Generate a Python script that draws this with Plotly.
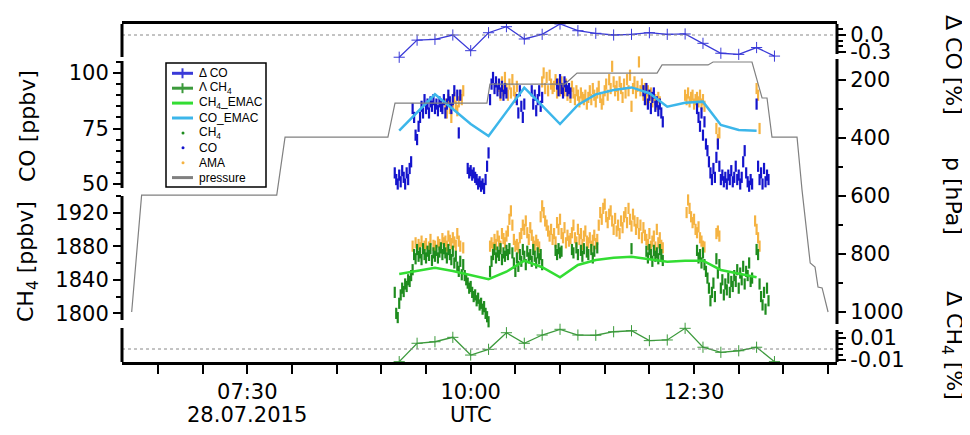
import plotly.graph_objects as go
import pandas as pd

DAY = "2015-07-28 "

# ---------------- data ----------------
PRESSURE_TIME = ["06:12:20", "06:19:00", "07:49:45", "07:55:20", "09:04:25", "09:09:10",
                 "10:10:55", "10:12:55", "11:03:20", "11:11:25", "12:05:10", "12:08:30",
                 "12:39:25", "12:42:45", "13:08:55", "13:12:20", "13:15:40", "13:19:00",
                 "13:22:20", "13:39:10", "13:42:30", "13:48:00", "13:51:15", "13:53:15",
                 "13:56:00", "14:00:00"]
PRESSURE_HPA = [1000, 597, 597, 397, 397, 280, 280, 214, 214, 176, 176, 148, 148, 138,
                138, 200, 262, 262, 397, 397, 579, 831, 845, 914, 917, 1000]

MODEL_TIME = ["09:12", "09:24", "09:36", "09:48", "10:00", "10:12", "10:24", "10:36",
              "10:48", "11:00", "11:12", "11:24", "11:36", "11:48", "12:00", "12:12",
              "12:24", "12:36", "12:48", "13:00", "13:12", "13:24"]
DELTA_CO = [-0.39, -0.09, -0.075, 0.0, -0.275, 0.04, 0.146, -0.07, 0.012, 0.193, 0.075,
            0.03, 0.0, 0.012, 0.04, 0.012, 0.018, -0.146, -0.32, -0.34, -0.22, -0.37]
DELTA_CH4 = [-0.0115, 0.0052, 0.0066, 0.0106, -0.0055, -0.0003, 0.0148, 0.0052, 0.0127,
             0.0179, 0.0127, 0.0125, 0.0157, 0.0166, 0.0076, 0.0082, 0.0188, 0.0016,
             -0.003, -0.0016, 0.0016, -0.0115]
CO_EMAC = [74.0, 82.1, 90.4, 83.8, 77.0, 71.6, 82.6, 93.4, 85.3, 77.0, 85.6, 90.4, 92.3,
           93.5, 90.9, 84.8, 86.6, 87.1, 76.6, 74.3, 74.0]
CH4_EMAC = [1846.9, 1850.5, 1854.4, 1850.5, 1845.7, 1840.6, 1849.6, 1862.7, 1854.9, 1843.0,
            1857.6, 1863.6, 1866.3, 1867.5, 1864.4, 1861.5, 1862.7, 1862.7, 1851.7, 1846.9,
            1843.0]

# in-situ data, one value per minute starting 09:05 (None = no data)
SAMPLE_START = "09:05"
CO_PPBV = ([None] * 4
           + [55, 52, 50, 54, 51, 56, 53, 50, 55, 52, 57, 60]
           + [84, 80, 72, 70, 76, 80, 85, 82, 88, 84, 86, 82, 87, 85, 88, 84, 86, 83, 87,
              85, 84, 88, 82, 86, 90, 87, 84, 88, 92]
           + [None] + [90, 73, 90] + [None] * 4
           + [57, 55, 56, 54, 55, 53, 52, 50, 51, 49, 50, 48, 52, 58, 64]
           + [88, 95, 98, 93, 96, 92, 95, 91, 94, 90, 93, 91]
           + [None] * 6 + [88, 82, 92, 85, 80, 86]
           + [None] * 4 + [92, 86, 90, 83, 88, 92, 85, 89]
           + [None] * 9 + [95, 92, 97, 93, 91, 96, 94, 92, 93, 91]
           + [None] * 48 + [92, 88, 93, 86, 90, 84, 89, 91, 85, 87, 83, 86, 82, 78]
           + [None] * 22 + [84, 80, 76, 82, 72, 78, 68, 65]
           + [60, 55, 52, 57, 53, 62, 68, 58, 52, 54, 51, 53, 50, 54, 52, 56, 51, 53, 58,
              52, 54, 50, 53, 60, 65, 55, 51, 49, 52, 50]
           + [None] * 2 + [86, 58, 52, 55, 50, 57, 51, 54, 52])

AMA_CO = ([None] * 38
          + [86, 82, 88, 84, 80, 86, 89, 85, 83, 87, 90, 88, 92]
          + [None] * 23
          + [94, 90, 96, 92, 98, 93, 90, 95, 91, 97, 92, 89, 94]
          + [None] * 16
          + [96, 100, 93, 98, 92, 99, 95, 93, 94, 97, 91, 95, 92, 96, 93]
          + [92, 95, 90, 93, 89, 94, 91, 88, 92, 90, 87, 91, 89, 88, 90, 86, 89, 92, 88,
             93, 90, 87, 91, 94, 89, 86, 88, 92, 95, 90, 97, 93, 103, 96, 92, 94, 90, 96,
             93, 89, 95, 91, 97, 92, 99, 85, 93, 96, 91, 94, 105, 92, 95, 90, 93, 88, 92,
             89, 91, 87, 90, 88, 86, 89, 87]
          + [None] * 16
          + [90, 88, 91, 87, 89, 90, 86, 88, 89, 87, 90, 86, 88, 85]
          + [None] * 7 + [75, 70, 73]
          + [None] * 24 + [93, 90, 75] + [None] * 6)

CH4_PPBV = ([None] * 4
            + [1825, 1800, 1795, 1812, 1822, 1830, 1826, 1835, 1832, 1840, 1838, 1845]
            + [1852, 1870, 1865, 1876, 1868, 1872, 1864, 1877, 1870, 1866, 1874, 1869, 1877,
               1863, 1872, 1868, 1875, 1866, 1873, 1878, 1870, 1877, 1872, 1866, 1876, 1870,
               1864, 1874, 1860, 1868, 1855, 1850, 1862, 1846, 1858]
            + [1845, 1840, 1836, 1830, 1832, 1825, 1820, 1822, 1815, 1818, 1810, 1812, 1805,
               1808, 1800, 1796, 1790]
            + [1850, 1862, 1870, 1876, 1866, 1873, 1869, 1877, 1864, 1872, 1868, 1875, 1870,
               1877]
            + [None]
            + [1872, 1860, 1850, 1866, 1856, 1870, 1862, 1876, 1868, 1858]
            + [1874, 1866, 1870, 1862, 1876, 1868, 1860, 1872, 1865, 1870, 1858]
            + [None] * 8 + [1875, 1870, 1877, 1872, 1874]
            + [None] * 6
            + [1876, 1872, None, 1878, 1870, None, 1875, 1868, 1877, None, 1873, 1870, None,
               1876, 1866, 1874, None, 1878]
            + [None] * 22 + [1877] + [None] * 9
            + [1874, 1866, 1876, 1870, 1862, 1875, 1868, 1872, 1865, 1876, 1870, 1863]
            + [None] * 22
            + [1875, 1866, 1870, 1860, 1872]
            + [1858, 1850, 1842, 1830, 1815, 1825, 1836, 1820]
            + [1865, 1848, 1858]
            + [1830, 1840, 1822, 1835, 1828, 1842, 1825, 1838, 1832]
            + [1845, 1838, 1852, 1830, 1848, 1840, 1856, 1835, 1850, 1845, 1860, 1838, 1842]
            + [None] * 2
            + [1876, 1870, 1835, 1820, 1810, 1825, 1805, 1830, 1815])

AMA_CH4 = ([None] * 16
           + [1880, None, 1884, None, 1882, 1878, 1886, None, 1880, 1883, None, 1879, 1888,
              None, 1881, 1880, None, 1885, 1882, 1878, 1889, 1884, 1886, 1880, 1892, 1887,
              1883, 1890, 1885, 1881, 1895, 1886, 1880, None, 1878]
           + [None] * 17
           + [1880, 1884, 1878, 1888, 1882, 1892, 1886, 1880, 1895, 1889, 1884, 1892, 1898,
              1912, 1922, 1905, 1888, 1880]
           + [1882, 1878, 1890, 1895, 1905, 1900, 1910, 1896, 1888, 1902, 1893, 1885, 1880,
              1887, 1882, 1879]
           + [1915, 1928, 1920, 1910, 1905, 1898, 1892, 1900, 1888, 1895, 1885]
           + [1908, 1900, 1912, 1895, 1890, 1902, 1884, 1893, 1886, 1889]
           + [1896, 1905, 1890, 1885, 1900, 1888, 1895, 1882, 1892, 1898, 1886, 1884, 1890,
              1880, 1887, 1893, 1883, 1888]
           + [1905, 1920, 1912, 1925, 1930, 1915, 1908, 1918, 1922, 1910, 1900, 1913, 1898,
              1905, 1895, 1910, 1902, 1915, 1920, 1908, 1925, 1912, 1904, 1918, 1910, 1900,
              1908, 1895, 1905, 1890, 1902, 1893]
           + [1888, 1882, 1895, 1880, 1886, 1892, 1879, 1900, 1884, 1890, 1881, 1878]
           + [None] * 15
           + [1920, 1935, 1925, 1915, 1908, 1912, 1900, 1896, 1903, 1890, 1886, 1880, 1879]
           + [None] * 7 + [1895, 1898, 1892]
           + [None] * 23 + [1910, 1900, 1890, 1880] + [None] * 6)

X_TICKS = ["06:30", "07:00", "07:30", "08:00", "08:30", "09:00", "09:30", "10:00", "10:30",
           "11:00", "11:30", "12:00", "12:30", "13:00", "13:30", "14:00"]
X_LABELS = {"07:30": "07:30", "10:00": "10:00", "12:30": "12:30"}
X_SUBLABELS = {"07:30": "28.07.2015", "10:00": "UTC"}

# ---------------- styling ----------------
C_DCO = "#3a3ad8"
C_DCH4 = "#3c9a3c"
C_CH4EMAC = "#33dd33"
C_COEMAC = "#3cb6ea"
C_CH4 = "#1e8c1e"
C_CO = "#1414cc"
C_AMA = "#f5b342"
C_P = "#808080"

OFF = 8                       # page offset of the figure (body margin)
W, H = 970 - OFF, 435 - OFF   # figure size
L, R, T, B = 122, 837, 24, 362  # plot area in page pixels
TICKFONT = dict(family="DejaVu Sans", size=21, color="black")


def t(s):
    return DAY + s


def px(x):
    return (x - L) / (R - L)


def py(y):
    return (B - y) / (B - T)


def streak(col):
    # dense 1-Hz samples appear as short vertical streaks
    return dict(symbol="line-ns", size=8, color=col, line=dict(color=col, width=2.2))


sample_times = pd.date_range(t(SAMPLE_START), periods=len(CO_PPBV), freq="min")
model_times = [t(s) for s in MODEL_TIME]

fig = go.Figure()
fig.add_trace(go.Scatter(x=[t(s) for s in PRESSURE_TIME], y=PRESSURE_HPA, yaxis="y3",
                         mode="lines", line=dict(color=C_P, width=1.2)))
fig.add_trace(go.Scatter(x=sample_times, y=AMA_CO, yaxis="y", mode="markers",
                         marker=streak(C_AMA)))
fig.add_trace(go.Scatter(x=sample_times, y=AMA_CH4, yaxis="y2", mode="markers",
                         marker=streak(C_AMA)))
fig.add_trace(go.Scatter(x=sample_times, y=CO_PPBV, yaxis="y", mode="markers",
                         marker=streak(C_CO)))
fig.add_trace(go.Scatter(x=sample_times, y=CH4_PPBV, yaxis="y2", mode="markers",
                         marker=streak(C_CH4)))
fig.add_trace(go.Scatter(x=model_times[:len(CO_EMAC)], y=CO_EMAC, yaxis="y", mode="lines",
                         line=dict(color=C_COEMAC, width=2.5)))
fig.add_trace(go.Scatter(x=model_times[:len(CH4_EMAC)], y=CH4_EMAC, yaxis="y2",
                         mode="lines", line=dict(color=C_CH4EMAC, width=2.5)))
fig.add_trace(go.Scatter(x=model_times, y=DELTA_CH4, yaxis="y5", mode="lines+markers",
                         line=dict(color=C_DCH4, width=1.3),
                         marker=dict(symbol="cross-thin", size=8,
                                     line=dict(color=C_DCH4, width=1))))
fig.add_trace(go.Scatter(x=model_times, y=DELTA_CO, yaxis="y4", mode="lines+markers",
                         line=dict(color=C_DCO, width=1.3),
                         marker=dict(symbol="cross-thin", size=8,
                                     line=dict(color=C_DCO, width=1))))


def yax(side, rng, tickvals, minor, ticktext=None, overlay=True):
    d = dict(side=side, range=rng, autorange=False, tickmode="array", tickvals=tickvals,
             ticks="outside", ticklen=8, tickwidth=2, tickcolor="black",
             tickfont=TICKFONT, showline=False, showgrid=False, zeroline=False,
             minor=dict(tickmode="array", tickvals=minor, ticks="outside", ticklen=5,
                        tickwidth=1.5, tickcolor="black", showgrid=False),
             anchor="x")
    if ticktext is not None:
        d["ticktext"] = ticktext
    if overlay:
        d["overlaying"] = "y"
    return d


fig.update_layout(
    width=W, height=H, autosize=False,
    margin=dict(l=L - OFF, r=W - (R - OFF), t=T - OFF, b=H - (B - OFF), pad=0),
    paper_bgcolor="white", plot_bgcolor="white",
    showlegend=False,
    xaxis=dict(type="date", range=[t("06:05:50"), t("14:06:00")], tickmode="array",
               tickvals=[t(s) for s in X_TICKS],
               ticktext=[X_LABELS.get(s, "") for s in X_TICKS],
               ticks="outside", ticklen=9, tickwidth=2, tickcolor="black",
               tickfont=TICKFONT, showline=True, mirror=True, linewidth=3,
               linecolor="black", showgrid=False, zeroline=False),
    yaxis=yax("left", [-30.18, 122.07], [50, 75, 100],
              [55, 60, 65, 70, 80, 85, 90, 95, 105], overlay=False),
    yaxis2=yax("left", [1742.1, 2144.5], [1800, 1840, 1880, 1920],
               [1820, 1860, 1900, 1940]),
    yaxis3=yax("right", [1172.4, 6.9], [200, 400, 600, 800, 1000], [300, 500, 700, 900]),
    yaxis4=yax("right", [-5.737, 0.193], [-0.3, 0.0], [-0.2, -0.1, 0.1],
               ticktext=["-0.3", "0.0"]),
    yaxis5=yax("right", [-0.01182, 0.2955], [-0.01, 0.01], [-0.005, 0.0, 0.005, 0.015],
               ticktext=["-0.01", "0.01"]),
)

shapes = []
annots = []
# zero reference lines
for ax in ("y4", "y5"):
    shapes.append(dict(type="line", xref="paper", x0=0, x1=1, yref=ax, y0=0, y1=0,
                       line=dict(color="#888888", width=1, dash="dot")))
# broken axis lines
for x, segs in ((L, [(24, 57), (61, 188), (196, 320), (328, 362)]),
                (R, [(24, 54), (59, 324), (330, 362)])):
    for y0, y1 in segs:
        shapes.append(dict(type="line", xref="paper", yref="paper", x0=px(x), x1=px(x),
                           y0=py(y0), y1=py(y1), line=dict(color="black", width=3)))

# second-line x labels
for s, txt in X_SUBLABELS.items():
    annots.append(dict(x=t(s), xref="x", y=py(415), yref="paper", text=txt,
                       showarrow=False, font=TICKFONT, xanchor="center", yanchor="middle"))

# axis titles
TITLEFONT = dict(family="DejaVu Sans", size=22, color="black")
for txt, x, y, ang in (("CO [ppbv]", 27, 126, -90),
                       ("CH<sub>4</sub> [ppbv]", 27, 262, -90),
                       ("Δ CO [%]", 953, 65, 90),
                       ("p [hPa]", 953, 196, 90),
                       ("Δ CH<sub>4</sub> [%]", 953, 345, 90)):
    annots.append(dict(x=px(x), y=py(y), xref="paper", yref="paper", text=txt,
                       textangle=ang, showarrow=False, font=TITLEFONT,
                       xanchor="center", yanchor="middle"))

# legend (drawn by hand)
shapes.append(dict(type="rect", xref="paper", yref="paper", x0=px(166), x1=px(266),
                   y0=py(63), y1=py(187), line=dict(color="black", width=1.5),
                   fillcolor="white", layer="above"))
LEG = [("Δ CO", "cross", C_DCO), ("Λ CH<sub>4</sub>", "cross", C_DCH4),
       ("CH<sub>4</sub>_EMAC", "line", C_CH4EMAC), ("CO_EMAC", "line", C_COEMAC),
       ("CH<sub>4</sub>", "dot", C_CH4), ("CO", "dot", C_CO), ("AMA", "dot", C_AMA),
       ("pressure", "line", C_P)]
for k, (txt, kind, col) in enumerate(LEG):
    yy = 73.3 + k * 14.9
    if kind in ("cross", "line"):
        shapes.append(dict(type="line", xref="paper", yref="paper", x0=px(172), x1=px(193),
                           y0=py(yy), y1=py(yy), line=dict(color=col, width=3)))
    if kind == "cross":
        shapes.append(dict(type="line", xref="paper", yref="paper", x0=px(182.5),
                           x1=px(182.5), y0=py(yy - 5), y1=py(yy + 5),
                           line=dict(color=col, width=2)))
    if kind == "dot":
        shapes.append(dict(type="circle", xref="paper", yref="paper", x0=px(181.5),
                           x1=px(184.5), y0=py(yy - 1.5), y1=py(yy + 1.5),
                           line=dict(color=col, width=0), fillcolor=col))
    annots.append(dict(x=px(197), y=py(yy), xref="paper", yref="paper", text=txt,
                       showarrow=False, xanchor="left", yanchor="middle",
                       font=dict(family="Liberation Sans", size=12, color="black")))

fig.update_layout(shapes=shapes, annotations=annots)
fig.write_html("out.html")
